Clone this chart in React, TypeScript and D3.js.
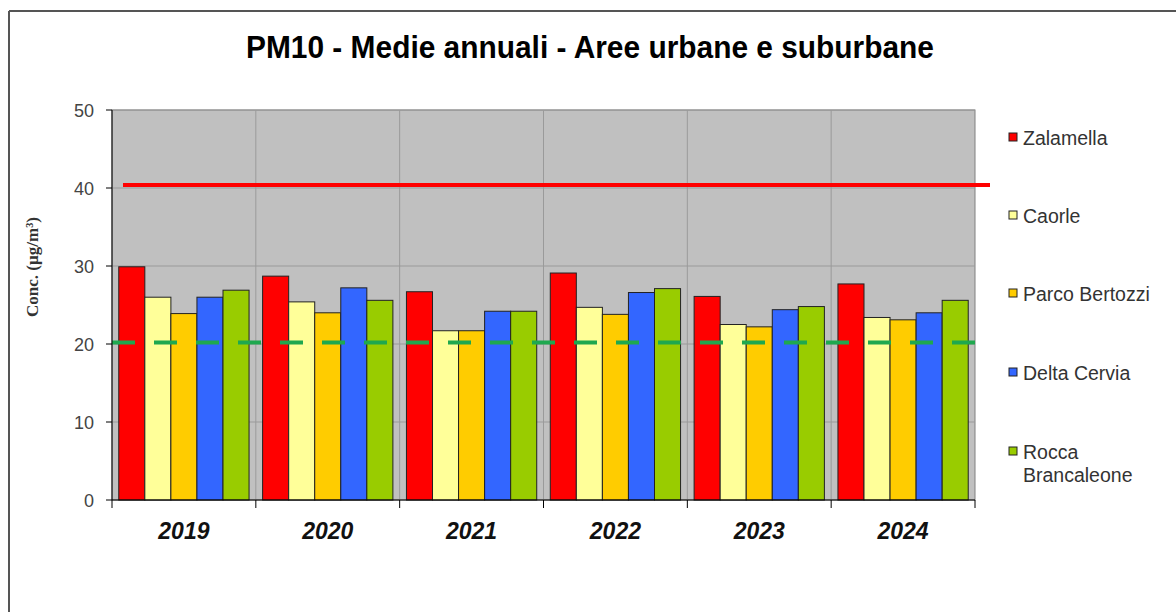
import React from "react";
import * as d3 from "d3";

const years = ["2019", "2020", "2021", "2022", "2023", "2024"];
const stations = ["Zalamella", "Caorle", "Parco Bertozzi", "Delta Cervia", "Rocca Brancaleone"];
const stationColors = ["#FF0000", "#FFFF99", "#FFCC00", "#3366FF", "#99CC00"];
const zalamella = [29.9, 28.7, 26.7, 29.1, 26.1, 27.7];
const caorle = [26.0, 25.4, 21.7, 24.7, 22.5, 23.4];
const parcoBertozzi = [23.9, 24.0, 21.7, 23.8, 22.2, 23.1];
const deltaCervia = [26.0, 27.2, 24.2, 26.6, 24.4, 24.0];
const roccaBrancaleone = [26.9, 25.6, 24.2, 27.1, 24.8, 25.6];
const seriesValues = [zalamella, caorle, parcoBertozzi, deltaCervia, roccaBrancaleone];
const yTicks = [0, 10, 20, 30, 40, 50];
const limitAnnual = 40.4;
const guideValue = 20.2;

export default function App() {
  const W = 1176, H = 612;
  const left = 112, right = 975, top = 110, bottom = 500;
  const x = d3.scaleBand<string>().domain(years).range([left, right]).paddingInner(0).paddingOuter(0);
  const inner = d3.scaleBand<string>().domain(stations).range([0, x.bandwidth()]).paddingInner(0).paddingOuter(0.26);
  const y = d3.scaleLinear().domain([0, 50]).range([bottom, top]);
  const bounds = years.map((yr) => x(yr) as number).concat([right]);
  const sans = "Liberation Sans, Arial, sans-serif";

  return (
    <svg width={W} height={H} style={{ position: "absolute", left: 0, top: 0, background: "#fff" }}>
      {/* outer frame */}
      <line x1={9} y1={11} x2={W} y2={11} stroke="#555" strokeWidth={2} />
      <line x1={9} y1={11} x2={9} y2={H} stroke="#555" strokeWidth={2} />

      <text x={590} y={58} textAnchor="middle" fontFamily={sans} fontWeight="bold" fontSize={31}
        textLength={688} lengthAdjust="spacingAndGlyphs" fill="#000">
        PM10 - Medie annuali - Aree urbane e suburbane
      </text>

      {/* plot area */}
      <rect x={left} y={top} width={right - left} height={bottom - top} fill="#C0C0C0" stroke="#808080" strokeWidth={1} />
      {yTicks.slice(1).map((t) => (
        <line key={"g" + t} x1={left} x2={right} y1={y(t)} y2={y(t)} stroke="#9a9a9a" strokeWidth={1} />
      ))}
      {bounds.slice(1, -1).map((bx, i) => (
        <line key={"v" + i} x1={bx} x2={bx} y1={top} y2={bottom} stroke="#9a9a9a" strokeWidth={1} />
      ))}

      {/* bars */}
      {years.map((yr, i) => (
        <g key={yr} transform={`translate(${x(yr)},0)`}>
          {stations.map((st, j) => {
            const v = seriesValues[j][i];
            return (
              <rect key={st} x={inner(st)} y={y(v)} width={inner.bandwidth()} height={y(0) - y(v)}
                fill={stationColors[j]} stroke="#222" strokeWidth={1} />
            );
          })}
        </g>
      ))}

      {/* reference lines */}
      <line x1={left + 11} x2={990} y1={y(limitAnnual)} y2={y(limitAnnual)} stroke="#FF0000" strokeWidth={4} />
      <line x1={left} x2={985} y1={y(guideValue)} y2={y(guideValue)} stroke="#1FA84F" strokeWidth={4} strokeDasharray="23,19" />

      {/* axes */}
      <line x1={left} x2={left} y1={top} y2={bottom} stroke="#000" strokeWidth={1} />
      <line x1={left} x2={right} y1={bottom} y2={bottom} stroke="#000" strokeWidth={1} />
      {yTicks.map((t) => (
        <g key={"t" + t}>
          <line x1={left - 6} x2={left} y1={y(t)} y2={y(t)} stroke="#000" />
          <text x={94} y={y(t) + 6.5} textAnchor="end" fontFamily={sans} fontSize={18} fill="#444">{t}</text>
        </g>
      ))}
      {bounds.map((bx, i) => (
        <line key={"xt" + i} x1={bx} x2={bx} y1={bottom} y2={bottom + 8} stroke="#000" />
      ))}
      {years.map((yr) => (
        <text key={"xl" + yr} x={(x(yr) as number) + x.bandwidth() / 2} y={539} textAnchor="middle"
          fontFamily={sans} fontWeight="bold" fontStyle="italic" fontSize={23} fill="#111">{yr}</text>
      ))}

      <text transform="translate(38,267) rotate(-90)" textAnchor="middle" fontFamily="Liberation Serif, Times New Roman, serif"
        fontWeight="bold" fontSize={17} fill="#333">
        Conc. (µg/m³)
      </text>

      {/* legend */}
      {stations.map((st, j) => {
        const ly = [138, 216, 294, 373, 452][j];
        const lines = st === "Rocca Brancaleone" ? ["Rocca", "Brancaleone"] : [st];
        return (
          <g key={"l" + st}>
            <rect x={1009} y={ly - 5} width={8} height={8} fill={stationColors[j]} stroke="#222" strokeWidth={1} />
            {lines.map((ln, k) => (
              <text key={k} x={1023} y={ly + 7 + k * 23} fontFamily={sans} fontSize={19.5} fill="#333">{ln}</text>
            ))}
          </g>
        );
      })}
    </svg>
  );
}
